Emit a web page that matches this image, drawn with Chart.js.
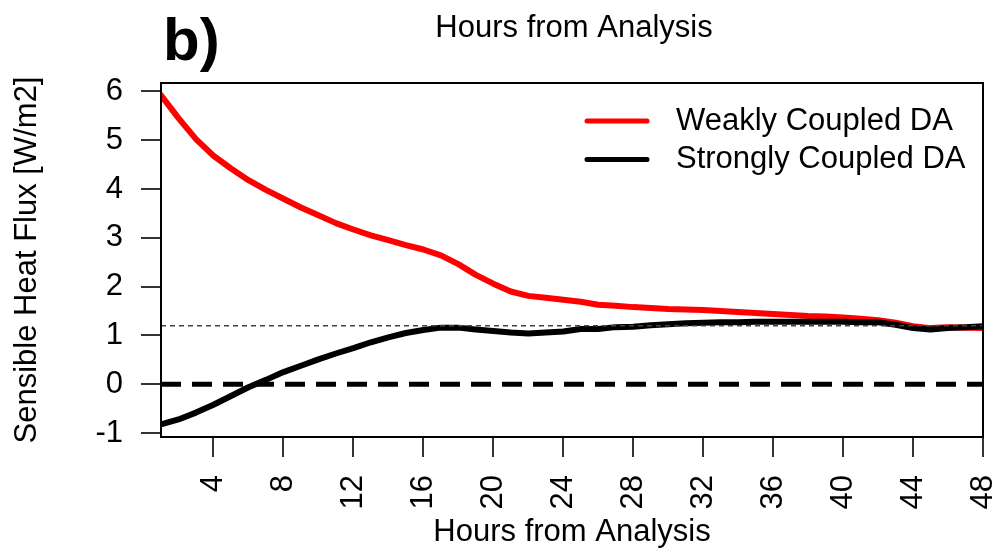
<!DOCTYPE html>
<html>
<head>
<meta charset="utf-8">
<script src="https://cdn.jsdelivr.net/npm/chart.js@4.4.1/dist/chart.umd.min.js"></script>
<style>
  html, body { margin: 0; padding: 0; background: #fff; }
  canvas { display: block; }
</style>
</head>
<body>
<canvas id="flux-chart" width="999" height="548"></canvas>
<script>
// Hours from analysis (x) and sensible heat flux [W/m2] per experiment
const HOURS = [1, 2, 3, 4, 5, 6, 7, 8, 9, 10, 11, 12, 13, 14, 15, 16, 17, 18, 19, 20, 21, 22, 23, 24,
  25, 26, 27, 28, 29, 30, 31, 32, 33, 34, 35, 36, 37, 38, 39, 40, 41, 42, 43, 44, 45, 46, 47, 48];

const WEAK = [5.92, 5.45, 5.02, 4.68, 4.42, 4.18, 3.98, 3.80, 3.62, 3.46,
  3.30, 3.17, 3.05, 2.95, 2.85, 2.76, 2.64, 2.46, 2.24, 2.06,
  1.90, 1.81, 1.77, 1.73, 1.69, 1.63, 1.61, 1.58, 1.56, 1.54,
  1.53, 1.52, 1.50, 1.48, 1.46, 1.44, 1.42, 1.40, 1.39, 1.37,
  1.34, 1.31, 1.26, 1.19, 1.15, 1.17, 1.16, 1.15];

const STRONG = [-0.82, -0.72, -0.58, -0.42, -0.24, -0.06, 0.09, 0.25, 0.38, 0.51,
  0.63, 0.74, 0.86, 0.96, 1.05, 1.11, 1.16, 1.16, 1.12, 1.09,
  1.06, 1.04, 1.06, 1.08, 1.13, 1.13, 1.17, 1.18, 1.21, 1.23,
  1.25, 1.26, 1.27, 1.27, 1.28, 1.28, 1.28, 1.28, 1.28, 1.28,
  1.27, 1.27, 1.22, 1.15, 1.12, 1.15, 1.17, 1.19];

const X_TICKS = [4, 8, 12, 16, 20, 24, 28, 32, 36, 40, 44, 48];
const Y_TICKS = [-1, 0, 1, 2, 3, 4, 5, 6];
const Y_MIN = -1.08;
const Y_MAX = 6.17;

const ZERO_LINE = 0;
const REF_LINE = 1.2;

const FONT = "'Liberation Sans', Arial, Helvetica, sans-serif";
Chart.defaults.font.family = FONT;
Chart.defaults.color = '#000';

function toPoints(values) {
  return values.map((v, i) => ({ x: HOURS[i], y: v }));
}

function flatLine(value) {
  return [{ x: HOURS[0], y: value }, { x: HOURS[HOURS.length - 1], y: value }];
}

// caixa completa em volta da area do grafico (estilo R)
const frame = {
  id: 'frame',
  afterDatasetsDraw(chart) {
    const { ctx, chartArea: a } = chart;
    ctx.save();
    ctx.strokeStyle = '#000';
    ctx.lineWidth = 2;
    ctx.strokeRect(a.left, a.top, a.right - a.left, a.bottom - a.top);
    ctx.restore();
  }
};

// legenda sem caixa, canto superior direito
const lineLegend = {
  id: 'lineLegend',
  afterDraw(chart) {
    const { ctx } = chart;
    const items = chart.data.datasets
      .filter(ds => ds.legendRow !== undefined)
      .sort((a, b) => a.legendRow - b.legendRow);
    ctx.save();
    ctx.font = '31px ' + FONT;
    ctx.textBaseline = 'middle';
    ctx.textAlign = 'left';
    items.forEach((ds, i) => {
      const y = 121 + i * 38.5;
      ctx.strokeStyle = ds.borderColor;
      ctx.lineWidth = 5;
      ctx.lineCap = 'round';
      ctx.beginPath();
      ctx.moveTo(587, y);
      ctx.lineTo(647, y);
      ctx.stroke();
      ctx.fillStyle = '#000';
      ctx.fillText(ds.label, 676, y);
    });
    ctx.restore();
  }
};

// rotulo do painel e titulo do painel de cima (cortado)
const panelText = {
  id: 'panelText',
  afterDraw(chart) {
    const { ctx } = chart;
    ctx.save();
    ctx.fillStyle = '#000';
    ctx.textBaseline = 'alphabetic';
    ctx.font = 'bold 60px ' + FONT;
    ctx.textAlign = 'left';
    ctx.fillText('b)', 163, 60);
    ctx.font = '31px ' + FONT;
    ctx.textAlign = 'center';
    ctx.fillText('Hours from Analysis', 574, 37);
    ctx.restore();
  }
};

new Chart(document.getElementById('flux-chart'), {
  type: 'line',
  data: {
    datasets: [
      {
        label: 'reference',
        data: flatLine(REF_LINE),
        borderColor: '#444',
        borderWidth: 1.5,
        borderDash: [5, 4],
        borderCapStyle: 'butt',
        pointRadius: 0,
        order: 0
      },
      {
        label: 'Strongly Coupled DA',
        data: toPoints(STRONG),
        borderColor: '#000',
        borderWidth: 6,
        pointRadius: 0,
        order: 1,
        legendRow: 1
      },
      {
        label: 'Weakly Coupled DA',
        data: toPoints(WEAK),
        borderColor: '#ff0000',
        borderWidth: 6,
        pointRadius: 0,
        order: 2,
        legendRow: 0
      },
      {
        label: 'zero',
        data: flatLine(ZERO_LINE),
        borderColor: '#000',
        borderWidth: 5,
        borderDash: [20, 11],
        borderCapStyle: 'butt',
        pointRadius: 0,
        order: 3
      }
    ]
  },
  options: {
    responsive: false,
    animation: false,
    layout: { padding: { top: 83, right: 16, left: 0, bottom: 0 } },
    elements: {
      line: { tension: 0, borderCapStyle: 'round', borderJoinStyle: 'round' }
    },
    plugins: {
      legend: { display: false },
      tooltip: { enabled: false }
    },
    scales: {
      x: {
        type: 'linear',
        min: HOURS[0],
        max: HOURS[HOURS.length - 1],
        afterBuildTicks: scale => { scale.ticks = X_TICKS.map(v => ({ value: v })); },
        afterFit: scale => {
          scale.height = 111;
          scale.paddingLeft = 0;
          scale.paddingRight = 0;
        },
        border: { display: false },
        grid: { drawOnChartArea: false, drawTicks: true, tickLength: 20, color: '#333', lineWidth: 2 },
        ticks: {
          autoSkip: false,
          minRotation: 90,
          maxRotation: 90,
          padding: 18,
          color: '#000',
          font: { size: 31 }
        },
        title: {
          display: true,
          text: 'Hours from Analysis',
          color: '#000',
          font: { size: 31, lineHeight: 1 },
          padding: { top: 0, bottom: 0 }
        }
      },
      y: {
        min: Y_MIN,
        max: Y_MAX,
        afterBuildTicks: scale => { scale.ticks = Y_TICKS.map(v => ({ value: v })); },
        afterFit: scale => { scale.width = 161; },
        border: { display: false },
        grid: { drawOnChartArea: false, drawTicks: true, tickLength: 20, color: '#333', lineWidth: 2 },
        ticks: {
          padding: 18,
          color: '#000',
          font: { size: 31 }
        },
        title: {
          display: true,
          text: 'Sensible Heat Flux [W/m2]',
          color: '#000',
          font: { size: 31, lineHeight: 1 },
          padding: { top: 12, bottom: 0 }
        }
      }
    }
  },
  plugins: [frame, lineLegend, panelText]
});
</script>
</body>
</html>
